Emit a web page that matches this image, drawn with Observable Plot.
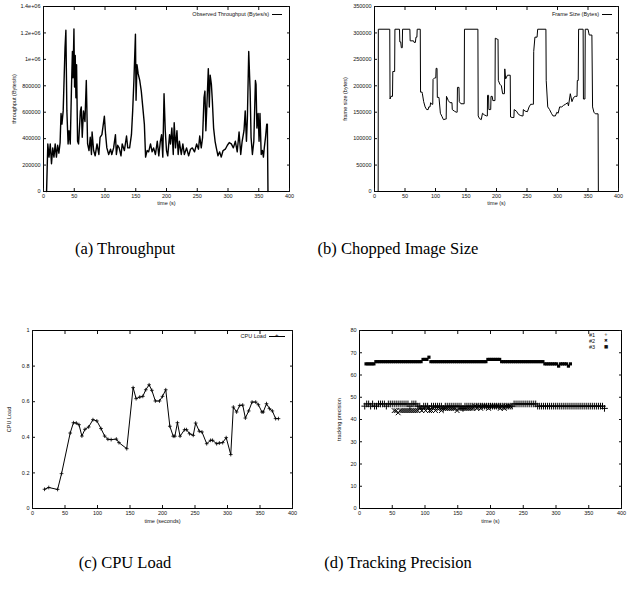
<!DOCTYPE html>
<html><head><meta charset="utf-8">
<script src="https://cdn.jsdelivr.net/npm/d3@7"></script>
<script src="https://cdn.jsdelivr.net/npm/@observablehq/plot@0.6"></script>
<style>
body{margin:0;background:#fff;}
#root{position:relative;width:631px;height:592px;background:#fff;overflow:hidden;}
.panel{position:absolute;}
.cap{position:absolute;font-family:"Liberation Serif","Times New Roman",serif;font-size:16.5px;line-height:16.5px;text-align:center;width:250px;color:#000;white-space:nowrap;}
.leg{position:absolute;font-family:"Liberation Sans",Arial,sans-serif;font-size:5.5px;line-height:6px;color:#111;white-space:nowrap;}
.legline{position:absolute;height:0;border-top:1.2px solid #000;}
</style></head>
<body><div id="root"></div>
<script>
// ---------- DATA ----------
const xTicks = [0, 50, 100, 150, 200, 250, 300, 350, 400];

// (a) Throughput
const tputTime = [5,7,9,11,13,15,17,19,21,23,25,27,28.5,30,32,35,36.4,38,40,41.5,43.5,45.6,47,48,49.5,50.5,51.6,52.7,53.8,55.4,57,60,61.4,63,65,67.4,69.6,71.7,74,76,78,79,81.5,84,87,90,92,95,99,101,103,106,109,111,114,117,118.5,120.6,123,126,128,131.5,135,137,140,143,145,147,149.5,150.5,152,154,156.5,159,162,164,166,168.5,171,174,176.6,179,182,185,187.5,190,192,194,196,198,200,202,205,206.5,208.7,211,212.5,214.7,217,219,221,224,226.6,229,232.6,236,239,242,245.6,249,252,254,256.5,258.7,261,262.5,264,266,268,269.6,271,273,274.5,276.6,279,281,283.7,286.4,289,292,295.6,299,302,305.4,308.7,312,315,318,320.7,323,326,328,330,331.5,333.7,336,337.5,339.7,342,344.6,345.6,347,349,350.5,352,354,356,357.6,359,361,363,364,365];
const tputBytes = [0,360000,260000,360000,210000,330000,260000,360000,260000,350000,290000,370000,590000,510000,610000,1090000,1220000,610000,360000,460000,360000,810000,1060000,860000,1230000,790000,1030000,710000,960000,380000,360000,610000,640000,410000,610000,530000,840000,360000,310000,410000,280000,450000,310000,270000,360000,280000,410000,430000,570000,430000,330000,280000,320000,280000,330000,430000,280000,350000,330000,270000,360000,310000,420000,330000,330000,430000,610000,840000,1190000,690000,960000,890000,840000,760000,610000,510000,260000,310000,300000,360000,300000,330000,280000,380000,270000,380000,430000,260000,740000,460000,310000,270000,430000,360000,480000,280000,520000,330000,460000,280000,380000,280000,360000,280000,330000,270000,320000,330000,300000,360000,320000,420000,330000,410000,710000,760000,460000,690000,930000,640000,880000,810000,690000,480000,380000,330000,270000,300000,260000,310000,320000,350000,370000,360000,330000,380000,300000,450000,280000,380000,460000,610000,380000,550000,1060000,760000,410000,280000,380000,840000,810000,480000,590000,380000,590000,280000,310000,260000,330000,410000,510000,510000,0];
const tputYTicks = [0, 200000, 400000, 600000, 800000, 1000000, 1200000, 1400000];
const tputYLabels = ["0", "200000", "400000", "600000", "800000", "1e+06", "1.2e+06", "1.4e+06"];

// (b) Chopped image size
const frameTime = [6,6.3,25,25.5,27,29.5,30,33,33.5,41,41.5,43,44,45.5,46,58,58.5,64,65,67,68,69.5,70,75,75.5,78,78.5,80.6,83,85.5,88,89,91,92,94,95.5,96,98.6,100.5,101,102.5,103,105.7,108,110.6,113,116.6,117.5,118,121,123.7,127,127.5,131,134,135.5,136,138.5,139,141.7,147,147.5,169.5,170,172,175,177,180,183.6,185,185.3,187,187.5,189.6,190.5,191,193,194,197.5,198,201.6,202.5,203,205.5,208,210,213,213.6,215,218,222.5,223,225.6,228.5,229,232.7,236,239,242,243.5,244,247,250.7,253.4,256,259.4,260.5,261,263,266.5,267.5,281,281.5,284,287,290,292.6,296.5,299,301,303.5,307,310,313,316.6,318,321,323.7,326.4,329,332,332.5,334,334.6,342,342.5,345,345.5,350,352,356.4,357.5,359.7,362,366.5,367];
const frameBytes = [0,307000,307000,175000,180000,180000,227000,227000,307000,307000,283000,283000,272000,272000,307000,307000,285000,285000,282000,282000,292000,292000,307000,307000,188000,188000,185000,170000,160000,155000,155000,160000,160000,168000,165000,165000,212000,215000,215000,233000,233000,178000,178000,148000,142000,136000,137000,137000,180000,172000,168000,168000,155000,152000,150000,150000,197000,197000,170000,166000,166000,307000,307000,143000,138000,136000,148000,145000,143000,143000,182000,182000,155000,155000,155000,180000,180000,172000,172000,290000,288000,288000,210000,203000,200000,185000,185000,232000,213000,220000,220000,141000,140000,140000,155000,152000,146000,144000,143000,143000,155000,152000,151000,160000,165000,165000,165000,265000,292000,292000,307000,307000,210000,160000,155000,148000,143000,143000,150000,148000,160000,160000,163000,165000,168000,162000,185000,170000,178000,180000,180000,210000,210000,307000,307000,175000,175000,307000,307000,296000,296000,160000,150000,147000,147000,0];
const frameYTicks = [0, 50000, 100000, 150000, 200000, 250000, 300000, 350000];
const frameYLabels = ["0", "50000", "100000", "150000", "200000", "250000", "300000", "350000"];

// (c) CPU load
const cpuTime = [18.5,25,38.6,44.7,58,63,67.4,71.5,76,80.7,86.4,93,99,105.4,111,116,121,129,133,145,154.8,159.4,165,169.7,174.3,179.4,183.6,189,195.4,200,205,211.3,216.5,219,223,227,234,237,241.6,247.3,251,256.6,260.7,268,274,277,283.3,287.5,292.6,298,305,309,314,318.8,323.4,327.5,332.6,337.8,343.4,347.5,353,355,360,364.6,369,374,378.4];
const cpuLoad = [0.108,0.118,0.107,0.196,0.424,0.482,0.48,0.471,0.407,0.445,0.458,0.499,0.492,0.449,0.407,0.389,0.387,0.39,0.37,0.336,0.679,0.617,0.626,0.63,0.667,0.695,0.664,0.604,0.604,0.63,0.667,0.462,0.406,0.406,0.482,0.406,0.443,0.443,0.42,0.411,0.48,0.434,0.43,0.364,0.383,0.383,0.364,0.368,0.37,0.398,0.303,0.57,0.542,0.579,0.581,0.508,0.548,0.598,0.598,0.583,0.542,0.542,0.589,0.561,0.548,0.505,0.505];
const cpuYTicks = [0, 0.2, 0.4, 0.6, 0.8, 1];
const cpuYLabels = ["0", "0.2", "0.4", "0.6", "0.8", "1"];

// (d) Tracking precision (sampled every 3 s)
const track1Start = 8;
const track1 = [46,47,47,46,47,46,46,47, 47,47,47,46,47,47,47,47,47,47,47,47,47,47,47,46,47,47,47, 46,46,45,46,46,46,45,46,46,46,46,46,46,45,46,46,46,46,46,46,46,46,46,45,46,46,46,46,46,46,46,46,46,46,46,46,46,46,46,46,46,46,46,46,46,46,46,46,46, 47,47,47,47,47,47,47,47,47,47,47,47, 46,46,46,46,46,46,46,46,46,46,46,46,46,46,46,46,46,46,46,46,46,46,46,46,46,46,46,46,46,46,46,46,46,46,45];
const track2Start = 53;
const track2 = [44,44,43,44,44,44,44,44,44,44,44,44,44, 45,44,45,44,45,44,44,45,44,45,45,44,45,45, 45,45,45,45,45,44,45,45,45,45,45,45,45,45,46,45, 46,45,46,46,46,45,46,46,46,46,46,45,46,45,46,46,46];
const track3Start = 10;
const track3 = [65,65,65,65,65, 66,66,66,66,66,66,66,66,66,66,66,66,66,66,66,66,66,66,66,66,66,66,66,66, 67,67,67,68, 66,66,66,66,66,66,66,66,66,66,66,66,66,66,66,66,66,66,66,66,66,66,66,66,66,66,66,66,66, 67,67,67,67,67,67,67, 66,66,66,66,66,66,66,66,66,66,66,66,66,66,66,66,66,66,66,66,66,66, 65,65,65,65,65,65,65,64,65,65,65,65,64,65];
const trackYTicks = [0, 10, 20, 30, 40, 50, 60, 70, 80];

const captions = ["(a) Throughput", "(b) Chopped Image Size", "(c) CPU Load", "(d) Tracking Precision"];

// ---------- BUILD ----------
const root = document.getElementById("root");
const fontFamily = "'Liberation Sans', Arial, Helvetica, sans-serif";
const toRows = (xs, ys) => xs.map((t, i) => ({t, v: ys[i]}));
const seq = (start, vals) => vals.map((v, i) => ({t: start + 3 * i, v}));

function panel({left, top, width, height, margin, yDomain, yTicks, yFmt, xLabel, yLabel, xLabelOffset, yLabelOffset, marks}) {
  const fs = 5.5;
  const chart = Plot.plot({
    width, height,
    marginTop: margin[0], marginRight: margin[1], marginBottom: margin[2], marginLeft: margin[3],
    style: {fontFamily, background: "transparent", color: "#111"},
    x: {domain: [0, 400]},
    y: {domain: yDomain},
    marks: [
      ...marks,
      Plot.frame({stroke: "#000", strokeWidth: 1}),
      Plot.axisX(xTicks, {anchor: "bottom", tickSize: -3, tickPadding: 6, fontSize: fs, label: xLabel, labelAnchor: "center", labelArrow: "none", labelOffset: xLabelOffset}),
      Plot.axisX(xTicks, {anchor: "top", tickSize: -3, tickFormat: () => "", label: null}),
      Plot.axisY(yTicks, {anchor: "left", tickSize: -3, tickPadding: 6, fontSize: fs, tickFormat: yFmt, label: yLabel, labelAnchor: "center", labelArrow: "none", labelOffset: yLabelOffset}),
      Plot.axisY(yTicks, {anchor: "right", tickSize: -3, tickFormat: () => "", label: null})
    ]
  });
  const div = document.createElement("div");
  div.className = "panel";
  div.style.left = left + "px"; div.style.top = top + "px";
  div.appendChild(chart);
  root.appendChild(div);
}

panel({
  left: 0, top: 0, width: 300, height: 215, margin: [6, 11, 24, 43],
  yDomain: [0, 1400000], yTicks: tputYTicks, yFmt: d => tputYLabels[tputYTicks.indexOf(d)],
  xLabel: "time (s)", yLabel: "throughput (Bytes/s)", xLabelOffset: 13.5, yLabelOffset: 31,
  marks: [Plot.line(toRows(tputTime, tputBytes), {x: "t", y: "v", stroke: "#000", strokeWidth: 1.4})]
});

panel({
  left: 315, top: 0, width: 316, height: 215, margin: [6, 13, 24, 59],
  yDomain: [0, 350000], yTicks: frameYTicks, yFmt: d => frameYLabels[frameYTicks.indexOf(d)],
  xLabel: "time (s)", yLabel: "frame size (bytes)", xLabelOffset: 13.5, yLabelOffset: 31,
  marks: [Plot.line(toRows(frameTime, frameBytes), {x: "t", y: "v", stroke: "#000", strokeWidth: 1})]
});

panel({
  left: 0, top: 290, width: 300, height: 240, margin: [40, 8, 22, 32],
  yDomain: [0, 1], yTicks: cpuYTicks, yFmt: d => cpuYLabels[cpuYTicks.indexOf(d)],
  xLabel: "time (seconds)", yLabel: "CPU Load", xLabelOffset: 14.5, yLabelOffset: 25,
  marks: [
    Plot.line(toRows(cpuTime, cpuLoad), {x: "t", y: "v", stroke: "#000", strokeWidth: 1}),
    Plot.dot(toRows(cpuTime, cpuLoad), {x: "t", y: "v", symbol: "plus", r: 1.3, stroke: "#000", strokeWidth: 0.8})
  ]
});

panel({
  left: 315, top: 290, width: 316, height: 240, margin: [40, 10, 22, 44],
  yDomain: [0, 80], yTicks: trackYTicks, yFmt: d => String(d),
  xLabel: "time (s)", yLabel: "tracking precision", xLabelOffset: 14.5, yLabelOffset: 22,
  marks: [
    Plot.dot(seq(track1Start, track1), {x: "t", y: "v", symbol: "plus", r: 2.3, stroke: "#000", strokeWidth: 1}),
    Plot.dot(seq(track2Start, track2), {x: "t", y: "v", symbol: "times", r: 2.3, stroke: "#000", strokeWidth: 1}),
    Plot.dot(seq(track3Start, track3), {x: "t", y: "v", symbol: "square", r: 1.8, fill: "#000", stroke: "none"})
  ]
});

// ---------- LEGENDS ----------
function legText(txt, right, y) {
  const d = document.createElement("div");
  d.className = "leg"; d.textContent = txt;
  d.style.left = (right - 150) + "px"; d.style.width = "150px"; d.style.textAlign = "right";
  d.style.top = (y - 3) + "px";
  root.appendChild(d);
}
function legLine(x, y, w) {
  const d = document.createElement("div");
  d.className = "legline";
  d.style.left = x + "px"; d.style.top = y + "px"; d.style.width = w + "px";
  root.appendChild(d);
}
legText("Observed Throughput (Bytes/s)", 269, 14); legLine(272, 14, 10);
legText("Frame Size (Bytes)", 599, 14); legLine(602, 14, 10);
legText("CPU Load", 266, 335.5); legLine(269, 335.5, 16);
const cpuMark = document.createElement("div");
cpuMark.className = "leg"; cpuMark.textContent = "+";
cpuMark.style.left = "275px"; cpuMark.style.top = "332px"; cpuMark.style.fontSize = "6px";
root.appendChild(cpuMark);
const trackSyms = ["+", "\u2716", "\u25A0"];
["#1", "#2", "#3"].forEach((s, i) => {
  legText(s, 595, 335 + i * 5.8);
  const m = document.createElement("div");
  m.className = "leg"; m.textContent = trackSyms[i];
  m.style.fontFamily = "'DejaVu Sans', sans-serif"; m.style.fontSize = "4.5px";
  m.style.left = "604px"; m.style.top = (332 + i * 5.8) + "px";
  root.appendChild(m);
});

// ---------- CAPTIONS ----------
const capPos = [[0, 240.5], [273, 240.5], [0, 555], [273, 555]];
captions.forEach((c, i) => {
  const d = document.createElement("div");
  d.className = "cap"; d.textContent = c;
  d.style.left = capPos[i][0] + "px"; d.style.top = capPos[i][1] + "px";
  root.appendChild(d);
});
</script>
</body></html>
